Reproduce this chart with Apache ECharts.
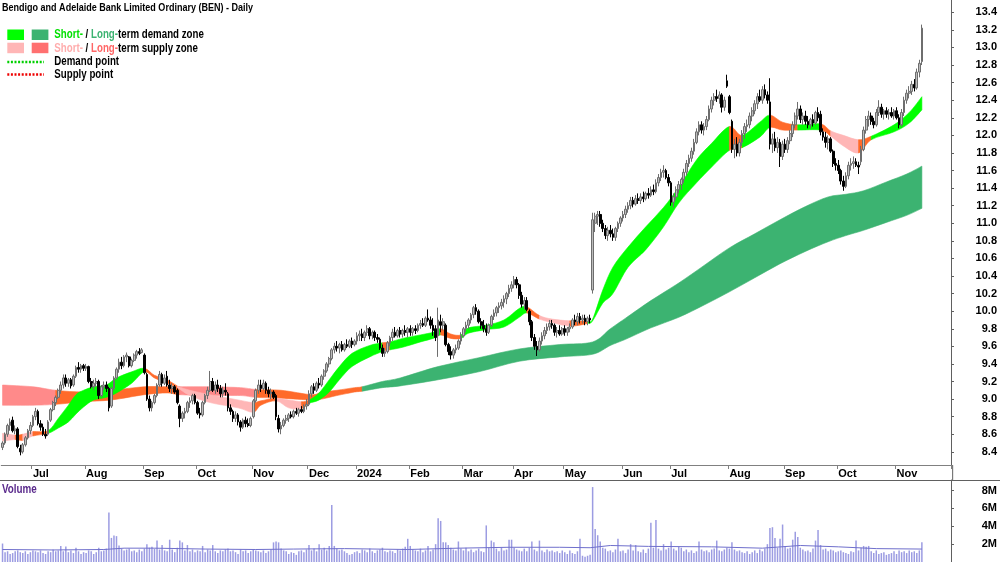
<!DOCTYPE html>
<html>
<head>
<meta charset="utf-8">
<title>BEN - Daily</title>
<script src="https://cdn.jsdelivr.net/npm/echarts@6/dist/echarts.min.js"></script>
<style>
  html, body { margin: 0; padding: 0; background: #fff; }
  #chart { width: 1000px; height: 562px; }
</style>
</head>
<body>
<div id="chart"></div>
<script>
// ASX trading calendar for the period shown
const holidays = ['2023-12-25', '2023-12-26', '2024-01-01', '2024-01-26', '2024-03-29', '2024-04-01', '2024-04-25', '2024-06-10'];
const monthNames = ['Jan', 'Feb', 'Mar', 'Apr', 'May', 'Jun', 'Jul', 'Aug', 'Sep', 'Oct', 'Nov', 'Dec'];
const priceTicks = [8.4, 8.6, 8.8, 9.0, 9.2, 9.4, 9.6, 9.8, 10.0, 10.2, 10.4, 10.6, 10.8, 11.0, 11.2, 11.4, 11.6, 11.8, 12.0, 12.2, 12.4, 12.6, 12.8, 13.0, 13.2, 13.4];
const volumeTicks = [2, 4, 6, 8];

// daily prices, one line per month (Jun 2023 .. Nov 2024)
const open = [
  8.45,8.50,8.60,8.70,8.76,8.64,8.66,8.44,8.40,8.48,8.56,8.64,
  8.70,8.80,8.86,8.72,8.68,8.60,8.60,8.76,8.88,8.96,9.02,9.10,9.16,9.24,9.18,9.22,9.16,9.26,9.36,9.34,9.38,
  9.35,9.37,9.20,9.14,9.18,9.20,9.04,9.14,9.16,9.12,8.92,9.12,9.24,9.34,9.42,9.38,9.48,9.48,9.38,9.44,9.50,9.54,9.53,
  9.50,9.28,9.00,8.90,8.96,9.04,9.16,9.28,9.18,9.26,9.16,9.12,9.14,9.10,8.92,8.78,8.84,8.86,8.96,8.98,9.04,
  8.96,8.84,8.82,8.96,9.04,9.10,9.20,9.10,9.16,9.12,9.06,9.10,9.06,8.90,8.86,8.78,8.82,8.74,8.68,8.76,8.72,8.70,
  8.80,8.98,9.10,9.16,9.12,9.18,9.10,9.06,9.08,9.04,8.78,8.66,8.70,8.76,8.78,8.82,8.80,8.86,8.84,8.88,8.86,8.92,
  8.94,9.06,9.14,9.10,9.18,9.16,9.26,9.32,9.40,9.46,9.56,9.60,9.58,9.62,9.56,9.62,9.60,9.66,9.62,
  9.66,9.72,9.74,9.70,9.76,9.80,9.72,9.76,9.70,9.68,9.58,9.52,9.54,9.64,9.70,9.76,9.72,9.78,9.74,9.78,9.76,
  9.80,9.76,9.80,9.78,9.84,9.86,9.84,9.92,9.90,9.84,9.80,9.72,9.88,9.84,9.84,9.62,9.54,9.50,9.56,9.58,9.66,
  9.72,9.80,9.84,9.90,9.96,10.04,10.00,9.88,9.84,9.80,9.76,9.84,9.94,9.98,10.04,10.06,10.10,10.14,10.20,10.26,
  10.30,10.36,10.30,10.18,10.08,10.12,10.00,9.88,9.70,9.60,9.56,9.66,9.72,9.78,9.82,9.86,9.84,9.76,9.78,9.74,
  9.80,9.76,9.80,9.82,9.90,9.88,9.94,9.90,9.92,9.88,9.92,10.24,11.00,11.08,11.10,11.00,10.94,10.86,10.92,10.88,10.84,10.94,11.00,
  11.06,11.10,11.16,11.20,11.26,11.22,11.28,11.26,11.30,11.28,11.34,11.32,11.38,11.36,11.46,11.52,11.58,11.60,11.52,
  11.46,11.24,11.30,11.38,11.44,11.50,11.58,11.68,11.74,11.82,11.92,12.04,12.12,12.06,12.10,12.18,12.30,12.40,12.44,12.42,12.46,12.32,12.62,
  12.44,12.16,11.84,11.90,11.80,11.92,12.02,12.10,12.12,12.22,12.28,12.36,12.44,12.40,12.52,12.46,12.38,11.90,11.96,11.86,11.92,11.76,
  11.90,11.84,11.94,12.02,12.12,12.22,12.30,12.18,12.22,12.16,12.12,12.18,12.14,12.26,12.24,12.04,11.98,11.92,11.96,11.82,11.68,
  11.66,11.60,11.48,11.42,11.54,11.66,11.68,11.70,11.66,11.70,11.84,12.06,12.18,12.22,12.16,12.12,12.26,12.32,12.24,12.28,12.24,12.26,12.22,
  12.28,12.20,12.12,12.26,12.40,12.48,12.50,12.58,12.54,12.72,12.84
];
const high = [
  8.52,8.62,8.72,8.78,8.80,8.70,8.68,8.48,8.50,8.58,8.66,8.74,
  8.82,8.90,8.88,8.76,8.72,8.66,8.76,8.90,8.98,9.04,9.12,9.20,9.28,9.28,9.24,9.24,9.28,9.38,9.42,9.40,9.40,
  9.40,9.38,9.24,9.22,9.24,9.22,9.16,9.20,9.20,9.14,9.14,9.26,9.36,9.46,9.48,9.50,9.53,9.49,9.46,9.52,9.56,9.58,9.58,
  9.52,9.30,9.04,8.98,9.06,9.18,9.32,9.30,9.28,9.32,9.22,9.18,9.16,9.12,8.94,8.86,8.90,8.98,9.02,9.06,9.06,
  8.98,8.90,8.98,9.06,9.14,9.32,9.24,9.20,9.22,9.16,9.14,9.18,9.08,8.94,8.88,8.86,8.84,8.76,8.78,8.80,8.78,8.80,
  9.00,9.12,9.22,9.22,9.22,9.20,9.14,9.12,9.10,9.06,8.82,8.74,8.78,8.82,8.84,8.86,8.88,8.90,8.90,8.92,8.94,9.00,
  9.10,9.16,9.18,9.20,9.24,9.28,9.34,9.42,9.48,9.58,9.64,9.66,9.64,9.66,9.64,9.68,9.68,9.70,9.68,
  9.76,9.78,9.80,9.78,9.84,9.82,9.78,9.78,9.74,9.70,9.62,9.58,9.66,9.72,9.80,9.82,9.80,9.82,9.80,9.84,9.82,
  9.84,9.82,9.84,9.86,9.90,9.92,9.94,10.02,9.94,9.92,9.84,10.04,9.96,9.92,9.86,9.64,9.60,9.58,9.62,9.68,9.76,
  9.82,9.88,9.92,9.98,10.06,10.08,10.02,9.92,9.90,9.86,9.86,9.96,10.02,10.06,10.10,10.14,10.18,10.22,10.30,10.34,
  10.40,10.39,10.32,10.22,10.16,10.16,10.02,9.90,9.74,9.66,9.70,9.76,9.82,9.86,9.90,9.90,9.86,9.82,9.84,9.82,
  9.84,9.82,9.86,9.92,9.96,9.98,9.98,9.96,9.96,9.94,9.96,11.12,11.12,11.14,11.14,11.04,10.98,10.96,10.98,10.94,10.96,11.02,11.08,
  11.14,11.20,11.24,11.30,11.30,11.32,11.34,11.34,11.36,11.36,11.40,11.42,11.44,11.50,11.56,11.62,11.66,11.62,11.56,
  11.48,11.34,11.42,11.48,11.52,11.62,11.72,11.78,11.86,11.96,12.08,12.16,12.16,12.14,12.22,12.34,12.44,12.48,12.52,12.50,12.48,12.44,12.69,
  12.46,12.18,11.96,11.98,11.96,12.06,12.14,12.18,12.26,12.32,12.40,12.48,12.52,12.56,12.58,12.50,12.65,12.02,12.04,11.98,11.96,11.94,
  11.96,11.98,12.06,12.16,12.26,12.38,12.34,12.26,12.28,12.22,12.20,12.24,12.28,12.32,12.28,12.08,12.04,12.00,11.98,11.84,11.74,
  11.72,11.62,11.54,11.58,11.70,11.74,11.76,11.74,11.70,11.88,12.10,12.22,12.28,12.26,12.20,12.30,12.40,12.36,12.30,12.32,12.30,12.32,12.30,
  12.32,12.24,12.30,12.44,12.52,12.56,12.62,12.64,12.76,12.86,13.26
];
const low = [
  8.42,8.48,8.57,8.64,8.62,8.60,8.44,8.36,8.38,8.46,8.54,8.60,
  8.68,8.76,8.70,8.64,8.58,8.55,8.58,8.74,8.86,8.92,9.00,9.06,9.12,9.14,9.14,9.12,9.14,9.24,9.30,9.30,9.32,
  9.32,9.18,9.12,9.10,9.14,9.00,9.02,9.10,9.08,8.86,8.90,9.10,9.22,9.30,9.34,9.36,9.42,9.36,9.36,9.42,9.46,9.50,9.52,
  9.28,8.98,8.86,8.86,8.94,9.02,9.14,9.14,9.16,9.14,9.08,9.06,9.06,8.94,8.68,8.74,8.78,8.84,8.90,8.94,8.94,
  8.82,8.78,8.80,8.94,9.00,9.08,9.08,9.06,9.08,9.02,9.02,9.04,8.86,8.82,8.74,8.74,8.70,8.63,8.66,8.68,8.68,8.68,
  8.78,8.96,9.06,9.08,9.10,9.06,9.02,9.00,9.00,8.76,8.62,8.60,8.68,8.72,8.74,8.78,8.78,8.82,8.80,8.84,8.84,8.88,
  8.92,9.02,9.06,9.08,9.12,9.14,9.22,9.30,9.36,9.44,9.52,9.54,9.52,9.54,9.54,9.58,9.58,9.58,9.60,
  9.62,9.66,9.66,9.66,9.72,9.68,9.68,9.66,9.64,9.56,9.48,9.48,9.52,9.60,9.66,9.70,9.70,9.70,9.70,9.72,9.70,
  9.72,9.72,9.74,9.76,9.80,9.82,9.82,9.88,9.80,9.72,9.66,9.48,9.76,9.78,9.60,9.50,9.45,9.46,9.52,9.56,9.62,
  9.70,9.76,9.80,9.86,9.92,9.96,9.86,9.80,9.76,9.72,9.74,9.82,9.90,9.94,9.98,10.02,10.04,10.08,10.16,10.22,
  10.26,10.26,10.14,10.04,10.02,10.00,9.84,9.66,9.56,9.49,9.54,9.62,9.68,9.74,9.78,9.80,9.72,9.70,9.72,9.72,
  9.72,9.72,9.76,9.80,9.84,9.84,9.86,9.86,9.84,9.84,9.86,10.20,10.90,10.98,10.96,10.90,10.82,10.80,10.84,10.80,10.80,10.90,10.96,
  11.02,11.06,11.12,11.16,11.18,11.20,11.22,11.22,11.24,11.26,11.28,11.30,11.32,11.34,11.42,11.48,11.52,11.50,11.42,
  11.20,11.18,11.26,11.34,11.38,11.46,11.54,11.64,11.70,11.78,11.90,12.00,12.02,12.00,12.06,12.16,12.26,12.34,12.38,12.36,12.26,12.28,12.54,
  12.24,11.80,11.74,11.76,11.76,11.88,11.96,12.04,12.08,12.16,12.24,12.30,12.38,12.36,12.42,12.36,11.84,11.80,11.82,11.80,11.64,11.72,
  11.80,11.80,11.90,11.98,12.08,12.18,12.14,12.12,12.12,12.08,12.08,12.10,12.12,12.16,12.00,11.94,11.86,11.84,11.80,11.64,11.60,
  11.56,11.44,11.37,11.40,11.50,11.60,11.62,11.64,11.56,11.66,11.82,12.02,12.10,12.12,12.08,12.10,12.22,12.20,12.18,12.20,12.18,12.20,12.18,
  12.18,12.08,12.10,12.22,12.36,12.42,12.46,12.50,12.52,12.66,12.80
];
const close = [
  8.50,8.60,8.70,8.74,8.64,8.66,8.46,8.40,8.48,8.56,8.64,8.70,
  8.80,8.86,8.72,8.68,8.60,8.58,8.74,8.88,8.96,9.02,9.10,9.16,9.24,9.18,9.22,9.15,9.26,9.36,9.34,9.38,9.35,
  9.37,9.20,9.14,9.18,9.20,9.04,9.14,9.16,9.12,8.90,9.12,9.24,9.34,9.42,9.38,9.48,9.50,9.38,9.44,9.50,9.54,9.52,9.56,
  9.30,9.00,8.90,8.96,9.04,9.16,9.28,9.18,9.24,9.16,9.12,9.14,9.08,8.96,8.78,8.84,8.86,8.96,8.98,9.04,8.96,
  8.84,8.82,8.96,9.04,9.10,9.20,9.10,9.16,9.12,9.06,9.10,9.08,8.90,8.86,8.78,8.82,8.74,8.68,8.76,8.72,8.70,8.78,
  8.98,9.10,9.16,9.12,9.18,9.10,9.06,9.08,9.02,8.80,8.66,8.70,8.76,8.78,8.82,8.80,8.86,8.84,8.88,8.86,8.92,8.94,
  9.06,9.14,9.10,9.18,9.16,9.26,9.32,9.40,9.46,9.56,9.60,9.58,9.62,9.56,9.62,9.60,9.66,9.62,9.66,
  9.72,9.74,9.70,9.76,9.80,9.72,9.76,9.70,9.68,9.58,9.52,9.54,9.64,9.70,9.76,9.72,9.78,9.74,9.78,9.76,9.80,
  9.76,9.80,9.78,9.84,9.86,9.84,9.92,9.90,9.84,9.78,9.70,9.90,9.84,9.88,9.62,9.54,9.50,9.56,9.58,9.66,9.72,
  9.80,9.84,9.90,9.96,10.04,10.00,9.88,9.84,9.80,9.76,9.84,9.94,9.98,10.04,10.06,10.10,10.14,10.20,10.26,10.30,
  10.36,10.30,10.18,10.08,10.12,10.02,9.88,9.70,9.60,9.56,9.66,9.72,9.78,9.82,9.86,9.84,9.76,9.78,9.74,9.80,
  9.76,9.80,9.82,9.90,9.88,9.94,9.90,9.92,9.88,9.92,9.90,11.04,11.08,11.10,11.00,10.94,10.86,10.92,10.88,10.84,10.94,11.00,11.06,
  11.10,11.16,11.20,11.26,11.22,11.28,11.26,11.30,11.28,11.34,11.32,11.38,11.36,11.46,11.52,11.58,11.60,11.52,11.46,
  11.24,11.30,11.38,11.44,11.50,11.58,11.68,11.74,11.82,11.92,12.04,12.12,12.06,12.10,12.18,12.30,12.40,12.44,12.42,12.46,12.32,12.40,12.56,
  12.26,11.84,11.90,11.80,11.92,12.02,12.10,12.12,12.22,12.28,12.36,12.44,12.40,12.52,12.46,12.40,11.90,11.96,11.86,11.92,11.76,11.90,
  11.84,11.94,12.02,12.12,12.22,12.30,12.18,12.22,12.16,12.12,12.18,12.14,12.26,12.20,12.04,11.98,11.92,11.96,11.82,11.68,11.66,
  11.60,11.48,11.42,11.54,11.66,11.68,11.70,11.66,11.64,11.84,12.06,12.18,12.22,12.16,12.12,12.26,12.32,12.24,12.28,12.24,12.26,12.22,12.28,
  12.20,12.12,12.26,12.40,12.48,12.50,12.58,12.54,12.72,12.82,13.22
];
// daily volume, millions of shares
const volume = [
  2.07,1.1,1.2,0.9,1.0,1.2,1.3,1.1,1.0,1.2,0.9,1.1,
  1.3,1.2,1.1,1.3,1.0,0.9,1.2,1.1,1.4,1.2,1.3,1.8,1.2,1.75,1.1,1.3,1.0,1.6,1.2,0.9,1.1,
  1.0,1.3,1.2,0.9,1.1,1.6,1.2,1.3,1.5,5.55,2.7,2.96,2.9,1.85,1.5,1.3,1.4,1.5,1.2,1.3,1.1,1.4,1.2,
  1.5,2.0,1.6,1.7,1.5,2.4,1.4,1.9,1.3,1.2,2.5,1.4,1.1,1.6,2.4,2.2,1.3,1.9,1.2,1.4,1.1,
  1.3,1.2,1.8,1.1,1.4,1.3,1.9,1.2,1.0,1.3,1.2,1.4,1.5,1.2,1.3,1.1,0.9,1.4,1.2,1.3,1.0,1.2,
  1.4,1.3,1.2,1.1,1.3,1.0,1.2,1.4,2.2,2.3,2.2,1.5,1.3,1.2,0.9,1.1,1.0,0.8,1.2,1.3,1.1,1.4,
  1.9,1.3,1.5,1.2,2.0,1.4,1.6,1.3,1.8,6.4,1.8,1.5,1.3,1.4,1.2,1.0,0.8,0.9,1.1,
  1.2,1.0,1.4,1.3,1.1,1.5,1.2,1.0,1.3,1.4,1.6,1.2,1.1,1.3,1.2,1.0,1.4,1.3,1.5,1.7,2.6,
  1.8,1.4,1.3,1.2,1.5,1.1,1.3,1.8,1.2,1.4,2.0,4.9,4.6,2.2,2.2,1.9,1.6,1.4,1.3,2.3,1.5,
  1.3,1.6,1.2,1.4,1.1,1.3,1.5,1.2,1.1,4.1,1.6,2.4,2.2,1.5,1.2,1.6,1.3,1.4,2.5,2.5,
  1.6,1.4,1.3,1.2,1.5,1.2,1.6,2.3,1.4,1.2,2.4,1.3,1.1,1.4,1.2,1.3,1.1,1.2,1.0,1.3,
  1.1,0.9,1.3,1.0,0.9,1.2,2.6,0.7,0.6,0.7,0.8,8.4,3.7,3.0,2.3,1.6,1.5,1.2,1.3,1.1,1.4,2.6,1.2,
  1.3,1.0,1.4,2.0,1.3,1.9,1.2,1.1,1.4,1.0,1.5,4.4,1.6,4.7,1.5,1.3,2.0,1.4,1.6,
  2.3,1.5,1.3,1.7,1.6,1.2,1.4,1.1,1.3,1.0,1.2,2.3,1.4,1.2,1.3,1.1,1.4,1.5,2.4,1.3,1.2,1.4,1.6,
  1.5,2.2,1.4,1.2,1.3,1.1,1.0,1.2,0.9,1.1,1.3,1.0,1.4,1.2,1.5,2.0,3.8,3.9,2.7,1.6,2.6,4.2,
  1.8,1.5,1.6,2.5,3.4,2.8,1.6,1.4,1.2,1.3,1.1,1.5,2.4,3.6,1.9,1.4,1.5,1.2,1.4,1.3,1.1,
  1.2,1.3,1.1,1.0,0.9,1.2,1.1,2.4,1.3,1.6,1.8,1.7,1.8,1.2,1.0,1.3,0.9,1.0,1.1,0.8,0.9,1.0,1.2,
  0.9,1.3,1.1,1.2,1.0,1.3,1.1,1.2,1.0,1.3,2.2
];
// volume average line, read at [bar, millions]
const volumeAvg = [[0,1.4],[20,1.35],[40,1.4],[48,1.55],[60,1.55],[80,1.45],[100,1.4],[115,1.45],[135,1.5],[160,1.4],[180,1.55],[200,1.65],[220,1.65],[232,1.6],[240,1.85],[255,1.75],[280,1.7],[300,1.55],[315,1.85],[330,1.7],[345,1.5],[363,1.45]];

// long-term zone edges at sample bars
const ltBars = [0,12,21,32,43,56,65,70,82,94,100,110,122,126,132,139,142,150,157,172,188,204,220,233,240,246,256,267,277,287,297,307,317,326,333,340,349,357,363];
const ltTop  = [9.16,9.14,9.10,9.08,9.10,9.14,9.14,9.14,9.14,9.13,9.11,9.10,9.05,9.08,9.10,9.13,9.14,9.20,9.24,9.37,9.47,9.57,9.62,9.65,9.80,9.92,10.12,10.32,10.52,10.72,10.88,11.04,11.19,11.30,11.33,11.37,11.47,11.56,11.65];
const ltBot  = [8.93,8.93,8.94,8.97,8.99,9.05,9.07,9.05,9.04,9.04,9.02,9.01,8.99,9.00,9.04,9.08,9.09,9.13,9.15,9.22,9.31,9.43,9.48,9.51,9.61,9.68,9.81,9.93,10.07,10.22,10.38,10.54,10.68,10.79,10.86,10.92,11.01,11.09,11.17];
const ltSegments = [[0,21,'ltSupply'],[21,70,'orange'],[70,100,'ltSupply'],[100,142,'orange'],[142,363,'ltDemand']];

// short-term zone edges at sample bars
const stBars = [0,5,8,12,18,22,26,29,32,36,41,45,51,56,60,65,69,74,82,93,99,102,108,113,118,121,125,129,133,138,145,150,153,158,165,170,173,177,181,184,191,198,204,207,212,217,224,231,233,237,241,247,254,261,267,274,280,287,292,299,303,308,314,323,327,332,338,343,352,358,363];
const stTop  = [8.61,8.59,8.60,8.63,8.64,8.78,8.93,9.05,9.10,9.14,9.16,9.24,9.31,9.35,9.27,9.22,9.15,9.10,9.05,8.99,8.96,8.98,9.01,8.99,8.97,8.99,9.07,9.22,9.37,9.52,9.61,9.64,9.65,9.69,9.73,9.76,9.80,9.74,9.73,9.81,9.84,9.90,10.03,10.05,9.95,9.91,9.89,9.89,9.91,10.24,10.50,10.73,10.96,11.18,11.41,11.72,11.91,12.10,12.00,12.15,12.23,12.15,12.12,12.13,12.05,12.00,11.95,11.99,12.12,12.26,12.44];
const stBot  = [8.52,8.54,8.53,8.58,8.61,8.67,8.74,8.83,8.91,8.99,9.02,9.07,9.18,9.31,9.24,9.18,9.13,9.04,8.96,8.90,8.85,8.93,8.98,8.90,8.89,8.95,8.99,9.08,9.22,9.37,9.48,9.54,9.56,9.59,9.65,9.69,9.73,9.69,9.69,9.75,9.79,9.82,9.93,9.98,9.91,9.87,9.83,9.86,9.89,10.09,10.20,10.50,10.70,10.96,11.23,11.46,11.64,11.83,11.86,11.98,12.09,12.06,12.06,12.06,11.99,11.88,11.80,11.95,12.04,12.14,12.29];
const stSegments = [[0,5,'stSupply'],[5,8,'orange'],[8,12,'stSupply'],[12,18,'orange'],[18,56,'stDemand'],[56,69,'orange'],[69,99,'stSupply'],[99,108,'orange'],[108,118,'stSupply'],[118,121,'orange'],[121,150,'stDemand'],[150,153,'orange'],[153,173,'stDemand'],[173,181,'orange'],[181,207,'stDemand'],[207,212,'orange'],[212,224,'stSupply'],[224,231,'orange'],[231,287,'stDemand'],[287,292,'orange'],[292,303,'stDemand'],[303,314,'orange'],[314,323,'stDemand'],[323,327,'orange'],[327,338,'stSupply'],[338,343,'orange'],[343,363,'stDemand']];

const zoneColors = {
  stDemand: '#00ff00',
  ltDemand: '#3cb371',
  stSupply: '#ffb6b6',
  ltSupply: '#ff8a8a',
  orange: '#ff6a2a'
};

const FONT = "'Liberation Sans', Arial, sans-serif";

[open, high, low, close, volume].forEach(function (a, k) {
  if (a.length !== 364) throw new Error('array ' + k + ' has ' + a.length + ' values');
});

function tradingDays() {
  const out = [];
  const d = new Date(Date.UTC(2023, 5, 15));
  const end = Date.UTC(2024, 10, 15);
  while (d.getTime() <= end) {
    const s = d.toISOString().slice(0, 10);
    const wd = d.getUTCDay();
    if (wd !== 0 && wd !== 6 && holidays.indexOf(s) < 0) out.push(s);
    d.setUTCDate(d.getUTCDate() + 1);
  }
  return out;
}

const days = tradingDays();
const categories = days.concat(Array.from({ length: 11 }, function (_, k) { return 'pad' + k; }));

// first trading day of each month gets a tick and a label
const monthLabel = {};
for (let i = 1; i < days.length; i++) {
  if (days[i].slice(0, 7) !== days[i - 1].slice(0, 7)) {
    const m = +days[i].slice(5, 7);
    monthLabel[i] = m === 1 ? days[i].slice(0, 4) : monthNames[m - 1];
  }
}

const candles = days.map(function (d, i) { return [open[i], close[i], low[i], high[i]]; });

// bezier piece from P[k] to P[k + dir], shaped by its neighbours
function piece(P, k, dir) {
  const n = P.length;
  const c = function (j) { return P[Math.max(0, Math.min(n - 1, j))]; };
  const p0 = c(k - dir), p1 = c(k), p2 = c(k + dir), p3 = c(k + 2 * dir);
  const c1 = [p1[0] + (p2[0] - p0[0]) / 6, p1[1] + (p2[1] - p0[1]) / 6];
  const c2 = [p2[0] - (p3[0] - p1[0]) / 6, p2[1] - (p3[1] - p1[1]) / 6];
  return ' C' + c1[0].toFixed(2) + ' ' + c1[1].toFixed(2) + ' ' + c2[0].toFixed(2) + ' ' + c2[1].toFixed(2) + ' ' + p2[0].toFixed(2) + ' ' + p2[1].toFixed(2);
}

function zoneSeries(name, bars, top, bot, segments, z) {
  return {
    name: name,
    type: 'custom',
    xAxisIndex: 0,
    yAxisIndex: 0,
    z: z,
    silent: true,
    data: segments.map(function (s) { return [s[0], top[bars.indexOf(s[0])]]; }),
    renderItem: function (params, api) {
      const s = segments[params.dataIndex];
      const a = bars.indexOf(s[0]);
      const b = bars.indexOf(s[1]);
      const T = bars.map(function (x, k) { return api.coord([x, top[k]]); });
      const B = bars.map(function (x, k) { return api.coord([x, bot[k]]); });
      let d = 'M' + T[a][0].toFixed(2) + ' ' + T[a][1].toFixed(2);
      for (let k = a; k < b; k++) d += piece(T, k, 1);
      d += ' L' + B[b][0].toFixed(2) + ' ' + B[b][1].toFixed(2);
      for (let k = b; k > a; k--) d += piece(B, k, -1);
      d += ' Z';
      return {
        type: 'path',
        shape: { pathData: d },
        style: { fill: zoneColors[s[2]], stroke: zoneColors[s[2]], lineWidth: 0.6 }
      };
    }
  };
}

const chart = echarts.init(document.getElementById('chart'), null, { renderer: 'canvas' });

const labelFont = { color: '#000', fontFamily: FONT, fontWeight: 'bold', fontSize: 11 };
const plotLeft = 1.26;
const plotWidth = 951.4;
const textFont = 'bold 12px ' + FONT;

const option = {
  animation: false,
  backgroundColor: '#fff',
  grid: [
    { left: plotLeft, width: plotWidth, top: 0, height: 465 },
    { left: plotLeft, width: plotWidth, top: 480, height: 82.7 }
  ],
  xAxis: [{
    type: 'category',
    gridIndex: 0,
    data: categories,
    boundaryGap: true,
    axisLine: { show: true, lineStyle: { color: '#808080', width: 1 } },
    axisTick: {
      show: true,
      alignWithLabel: false,
      length: 4,
      interval: function (i) { return monthLabel[i] !== undefined; },
      lineStyle: { color: '#808080' }
    },
    axisLabel: Object.assign({
      interval: function (i) { return monthLabel[i] !== undefined; },
      formatter: function (v, i) { return monthLabel[i] || ''; },
      align: 'left',
      margin: 3,
      hideOverlap: false
    }, labelFont),
    splitLine: { show: false }
  }, {
    type: 'category',
    gridIndex: 1,
    data: categories,
    boundaryGap: true,
    axisLine: { show: false },
    axisTick: { show: false },
    axisLabel: { show: false },
    splitLine: { show: false }
  }],
  yAxis: [{
    type: 'value',
    gridIndex: 0,
    position: 'right',
    min: 8.25,
    max: 13.54,
    splitLine: { show: false },
    axisLine: { show: true, lineStyle: { color: '#606060' } },
    axisTick: { show: true, length: 3, customValues: priceTicks, lineStyle: { color: '#606060' } },
    axisLabel: Object.assign({
      customValues: priceTicks,
      formatter: function (v) { return v.toFixed(1); },
      align: 'right',
      margin: 46
    }, labelFont)
  }, {
    type: 'value',
    gridIndex: 1,
    position: 'right',
    min: 0,
    max: 9.19,
    splitLine: { show: false },
    axisLine: { show: true, lineStyle: { color: '#606060' } },
    axisTick: { show: true, length: 3, customValues: volumeTicks, lineStyle: { color: '#606060' } },
    axisLabel: Object.assign({
      customValues: volumeTicks,
      formatter: function (v) { return v + 'M'; },
      align: 'right',
      margin: 46
    }, labelFont)
  }],
  series: [
    zoneSeries('Long-term zone', ltBars, ltTop, ltBot, ltSegments, 1),
    zoneSeries('Short-term zone', stBars, stTop, stBot, stSegments, 2),
    {
      name: 'BEN',
      type: 'candlestick',
      xAxisIndex: 0,
      yAxisIndex: 0,
      z: 5,
      barWidth: 2.2,
      data: candles,
      itemStyle: {
        color: '#bcbcbc',
        color0: '#000000',
        borderColor: '#6e6e6e',
        borderColor0: '#000000',
        borderWidth: 1
      }
    },
    {
      name: 'Volume',
      type: 'bar',
      xAxisIndex: 1,
      yAxisIndex: 1,
      barWidth: 1.5,
      data: volume,
      itemStyle: { color: '#9c9ce2' },
      silent: true
    },
    {
      name: 'Volume average',
      type: 'line',
      xAxisIndex: 1,
      yAxisIndex: 1,
      data: volumeAvg,
      symbol: 'none',
      lineStyle: { color: '#6f6fcc', width: 1 },
      silent: true,
      z: 3
    }
  ],
  graphic: [
    { type: 'text', x: 2, y: 8, scaleX: 0.82, style: { text: 'Bendigo and Adelaide Bank Limited Ordinary (BEN) - Daily', fill: '#000', font: 'bold 11px ' + FONT, verticalAlign: 'middle' } },
    { type: 'rect', shape: { x: 7.3, y: 29.5, width: 16.7, height: 10.5 }, style: { fill: zoneColors.stDemand } },
    { type: 'rect', shape: { x: 31.7, y: 29.5, width: 16.7, height: 10.5 }, style: { fill: zoneColors.ltDemand } },
    { type: 'rect', shape: { x: 7.3, y: 42.7, width: 16.7, height: 10.5 }, style: { fill: zoneColors.stSupply } },
    { type: 'rect', shape: { x: 31.7, y: 42.7, width: 16.7, height: 10.5 }, style: { fill: '#ff7070' } },
    { type: 'line', shape: { x1: 7.3, y1: 62, x2: 44, y2: 62 }, style: { stroke: '#00d000', lineWidth: 2.5, lineDash: [2, 1.6] } },
    { type: 'line', shape: { x1: 7.3, y1: 74.5, x2: 44, y2: 74.5 }, style: { stroke: '#ee0000', lineWidth: 2.5, lineDash: [2, 1.6] } },
    {
      type: 'text', x: 54.3, y: 35, scaleX: 0.81,
      style: {
        text: '{a|Short-} / {b|Long-}term demand zone', fill: '#000', font: textFont, verticalAlign: 'middle',
        rich: { a: { fill: '#00e000', font: textFont }, b: { fill: '#3cb371', font: textFont } }
      }
    },
    {
      type: 'text', x: 54.3, y: 48.3, scaleX: 0.81,
      style: {
        text: '{a|Short-} / {b|Long-}term supply zone', fill: '#000', font: textFont, verticalAlign: 'middle',
        rich: { a: { fill: '#ffacac', font: textFont }, b: { fill: '#ff6666', font: textFont } }
      }
    },
    { type: 'text', x: 54.3, y: 62, scaleX: 0.81, style: { text: 'Demand point', fill: '#000', font: textFont, verticalAlign: 'middle' } },
    { type: 'text', x: 54.3, y: 74.5, scaleX: 0.81, style: { text: 'Supply point', fill: '#000', font: textFont, verticalAlign: 'middle' } },
    { type: 'line', shape: { x1: 0, y1: 480.5, x2: 1000, y2: 480.5 }, style: { stroke: '#606060', lineWidth: 1 } },
    { type: 'line', shape: { x1: plotLeft + plotWidth, y1: 465, x2: plotLeft + plotWidth, y2: 481 }, style: { stroke: '#606060', lineWidth: 1 } },
    { type: 'text', x: 2, y: 489.5, scaleX: 0.82, style: { text: 'Volume', fill: '#5a2a8c', font: textFont, verticalAlign: 'middle' } }
  ]
};

chart.setOption(option);
</script>
</body>
</html>
